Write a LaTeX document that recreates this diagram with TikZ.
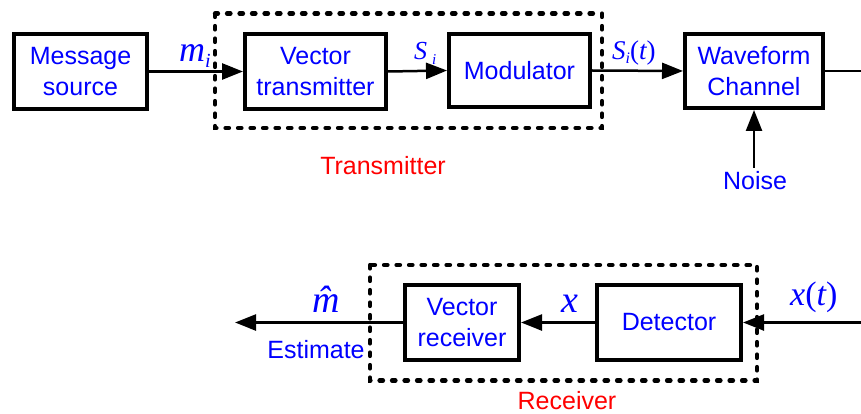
\documentclass[tikz,border=0pt]{standalone}
\usepackage{fontspec}
\setmainfont{Liberation Sans}
\newfontfamily\tms{Liberation Serif}
\usetikzlibrary{arrows.meta}

\tikzset{
  blk/.style={draw, line width=4pt, inner sep=0pt, align=center, text=blue,
              font=\fontsize{25}{31}\selectfont},
  sig/.style={line width=2.5pt, -{Triangle[length=21pt,width=16pt]}},
  grp/.style={draw, line width=4.2pt, dash pattern=on 3.5pt off 9pt, line cap=round},
  bluetxt/.style={text=blue, inner sep=0pt, font=\fontsize{25}{31}\selectfont},
  redtxt/.style={text=red, inner sep=0pt, font=\fontsize{25}{31}\selectfont},
  mlab/.style={text=blue, inner sep=0pt, anchor=base west}
}

\begin{document}
\begin{tikzpicture}[x=1pt, y=-1pt]
\useasboundingbox (0,0) rectangle (861,414);

% group frames
\draw[grp] (215,13.5) rectangle (602,128);
\draw[grp] (370,265) rectangle (757,380.5);

% transmitter chain
\node[blk, minimum width=133pt, minimum height=75pt] (msg) at (80.5,71.5) {Message\\source};
\node[blk, minimum width=141pt, minimum height=75pt] (vt)  at (315.5,71.5) {Vector\\transmitter};
\node[blk, minimum width=141pt, minimum height=73pt] (mod) at (519.5,70.5) {Modulator};
\node[blk, minimum width=138pt, minimum height=74pt] (wc)  at (754,71) {Waveform\\Channel};

% receiver chain
\node[blk, minimum width=114pt, minimum height=75pt] (vr)  at (462,322.5) {Vector\\receiver};
\node[blk, minimum width=144pt, minimum height=75pt] (det) at (669,322.5) {Detector};

% free ends
\coordinate (outR) at (861,71);
\coordinate (inR)  at (861,322.5);
\coordinate (outL) at (235,322.5);
\coordinate (nz)   at (754,168);

% connectors
\draw[sig] (msg.east) -- (vt.west);
\draw[sig] (vt.east) -- (mod.west);
\draw[sig] (mod.east) -- (wc.west);
\draw[line width=2.5pt] (wc.east) -- (outR);
\draw[sig] (nz) -- (wc.south);
\draw[sig] (inR) -- (det.east);
\draw[sig] (det.west) -- (vr.east);
\draw[sig] (vr.west) -- (outL);

% plain labels
\node[bluetxt] (noise) at (755,181) {Noise};
\node[bluetxt] (est) at (316,350) {Estimate};
\node[redtxt] (txl) at (383,166) {Transmitter};
\node[redtxt] (rxl) at (567,401) {Receiver};

% signal labels
\node[mlab] (lm) at (179,62) {\tms\itshape\fontsize{36}{36}\selectfont m\raisebox{-6pt}{\fontsize{20}{20}\selectfont i}};
\node[mlab] (ls) at (414,60) {\tms\itshape\fontsize{26}{26}\selectfont S\hspace{5pt}\raisebox{-5pt}{\fontsize{15}{15}\selectfont i}};
\node[mlab] (lst) at (612,60) {\tms\itshape\fontsize{27}{27}\selectfont S\raisebox{-4pt}{\fontsize{16}{16}\selectfont i}\upshape(\itshape t\upshape)};
\node[mlab] (lx) at (561,312) {\tms\itshape\fontsize{38}{38}\selectfont x};
\node[mlab] (lxt) at (790,305) {\tms\itshape\fontsize{34}{34}\selectfont x\upshape(\itshape t\upshape)};
\node[mlab] (lmh) at (312,312) {\tms\itshape\fontsize{38}{38}\selectfont \^{m}};
\end{tikzpicture}
\end{document}
